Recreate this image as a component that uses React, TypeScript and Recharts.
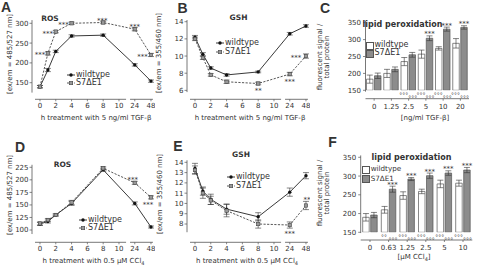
import React from 'react';
import { LineChart, Line, BarChart, Bar, XAxis, YAxis, ErrorBar, ReferenceLine, LabelList } from 'recharts';

const INK = '#333';
const AXIS = '#555';
const FONT = '"DejaVu Sans", Verdana, sans-serif';

// time course (h) – the axis is broken after 10 h
const hours = [0, 1, 2, 4, 8, 24, 48];
const hourTicks = [0, 2, 4, 6, 8, 10, 24, 48];

// A: ROS, 5 ng/ml TGF-beta
const rosTgfWt = [140, 182, 229, 268, 270, 195, 154];
const rosTgfWtErr = [3, 4, 3, 3, 3, 3, 3];
const rosTgfMut = [140, 224, 279, 300, 302, 285, 220];
const rosTgfMutErr = [3, 4, 3, 3, 3, 4, 4];
const rosTgfStars = [
  { h: 1, t: '***', dx: -8, dy: 0 },
  { h: 2, t: '***', dx: -8, dy: 0 },
  { h: 4, t: '***', dx: -8, dy: 0 },
  { h: 8, t: '***', dx: -1, dy: -3 },
  { h: 24, t: '***', dx: 0, dy: -4 },
  { h: 48, t: '***', dx: -8.5, dy: 0 },
];

// B: GSH, 5 ng/ml TGF-beta
const gshTgfWt = [12.2, 10.2, 8.6, 7.8, 8.15, 12.6, 13.5];
const gshTgfWtErr = [0.2, 0.2, 0.15, 0.15, 0.1, 0.15, 0.15];
const gshTgfMut = [12.0, 9.8, 7.8, 7.0, 6.8, 7.9, 10.0];
const gshTgfMutErr = [0.2, 0.2, 0.15, 0.2, 0.15, 0.2, 0.25];
const gshTgfStars = [
  { h: 8, t: '**', dx: 0, dy: 5 },
  { h: 24, t: '***', dx: 0, dy: 6 },
  { h: 48, t: '***', dx: -10, dy: 0 },
];

// D: ROS, 0.5 µM CCl4
const rosCclWt = [112, 117, 130, 153, 220, 153, 106];
const rosCclWtErr = [3, 3, 2, 4, 3, 3, 2];
const rosCclMut = [113, 120, 130, 155, 223, 194, 165];
const rosCclMutErr = [3, 3, 2, 4, 3, 3, 3];
const rosCclStars = [
  { h: 24, t: '***', dx: -2, dy: -5 },
  { h: 48, t: '***', dx: -3, dy: 6 },
];

// E: GSH, 0.5 µM CCl4
const gshCclWt = [13.4, 11.2, 10.4, 9.45, 8.7, 11.1, 12.7];
const gshCclWtErr = [0.5, 0.4, 0.5, 0.5, 0.4, 0.4, 0.3];
const gshCclMut = [13.25, 11.0, 10.3, 9.3, 8.0, 7.9, 9.8];
const gshCclMutErr = [0.4, 0.5, 0.4, 0.6, 0.4, 0.3, 0.4];
const gshCclStars = [
  { h: 24, t: '***', dx: 0, dy: 6.5 },
  { h: 48, t: '**', dx: 1, dy: -7.5 },
];

// C: lipid peroxidation, TGF-beta doses
const tgfDoses = ['0', '1.25', '2.5', '5', '10', '20'];
const lipTgfWt = [183, 200, 235, 257, 274, 289];
const lipTgfWtErr = [12, 12, 12, 12, 5, 14];
const lipTgfMut = [193, 212, 255, 304, 331, 336];
const lipTgfMutErr = [8, 7, 7, 7, 6, 5];
const lipTgfWtLow = ['', '', '°°°', '°°°', '°°°', '°°°'];
const lipTgfMutLow = ['', '', '°°°', '°°°', '°°°', '°°°'];
const lipTgfMutTop = ['', '', '', '***', '***', '***'];

// F: lipid peroxidation, CCl4 doses
const cclDoses = ['0', '0.63', '1.25', '2.5', '5', '10'];
const lipCclWt = [190, 210, 248, 259, 279, 281];
const lipCclWtErr = [10, 9, 10, 6, 10, 8];
const lipCclMut = [196, 265, 292, 301, 308, 316];
const lipCclMutErr = [7, 8, 4, 7, 6, 7];
const lipCclWtLow = ['', '°°', '°°°', '°°°', '°°°', '°°°'];
const lipCclMutLow = ['', '°°°', '°°°', '°°°', '°°°', '°°°'];
const lipCclMutTop = ['', '***', '***', '***', '***', '***'];

const axisPos = (h: number) => (h <= 10 ? h : h === 24 ? 12 : 14.05);
const X_DOMAIN: [number, number] = [-1.01, 14.56];
const X_SEGMENTS = [[-0.63, 10.9], [11.4, 14.3]];
const tickLabel = (p: number) => {
  const h = hourTicks.find((t) => Math.abs(axisPos(t) - p) < 0.01);
  return h === undefined ? '' : String(h);
};

const tickStyle = { fontSize: 7, fill: INK, fontFamily: FONT };
const tickLineStyle = { stroke: AXIS, strokeWidth: 0.7 };

const CircleDot = (p: any) => (
  <circle key={`c${p.index}`} cx={p.cx} cy={p.cy} r={1.7} fill="#111" />
);
const SquareDot = (p: any) => (
  <rect key={`s${p.index}`} x={p.cx - 1.7} y={p.cy - 1.7} width={3.4} height={3.4} fill="#999" stroke="#444" strokeWidth={0.6} />
);

type Star = { h: number; t: string; dx: number; dy: number };

interface LinePanelProps {
  left: number;
  top: number;
  height: number;
  plotBottom: number;
  domain: [number, number];
  ticks: number[];
  axisRange: [number, number];
  wt: number[];
  wtErr: number[];
  mut: number[];
  mutErr: number[];
  stars: Star[];
}

const LinePanel: React.FC<LinePanelProps> = ({ left, top, height, plotBottom, domain, ticks, axisRange, wt, wtErr, mut, mutErr, stars }) => {
  const rows = hours.map((h, i) => {
    const s = stars.find((st) => st.h === h);
    return { pos: axisPos(h), wt: wt[i], wtErr: wtErr[i], mut: mut[i], mutErr: mutErr[i], star: s ? s.t : '', sdx: s ? s.dx : 0, sdy: s ? s.dy : 0 };
  });

  const starLabel = (p: any) => {
    const r = rows[p.index];
    if (!r || !r.star) return null;
    const x = Number(p.x ?? p.viewBox?.x) + r.sdx;
    const y = Number(p.y ?? p.viewBox?.y) + r.sdy;
    return (
      <text x={x} y={y + 4} textAnchor="middle" fontSize={7} fill={INK} fontFamily={FONT}>
        {r.star}
      </text>
    );
  };

  return (
    <div style={{ position: 'absolute', left, top }}>
      <LineChart width={155} height={height} data={rows} margin={{ top: 20, right: 0, left: 0, bottom: height - plotBottom - 12 }}>
        <XAxis
          type="number"
          dataKey="pos"
          domain={X_DOMAIN}
          allowDataOverflow
          ticks={hourTicks.map(axisPos)}
          interval={0}
          tickFormatter={tickLabel}
          axisLine={false}
          tickSize={2}
          tickMargin={2}
          height={12}
          tick={tickStyle}
          tickLine={tickLineStyle}
        />
        <YAxis
          type="number"
          domain={domain}
          allowDataOverflow
          ticks={ticks}
          interval={0}
          width={32}
          axisLine={false}
          tickSize={2.5}
          tickMargin={1}
          tick={tickStyle}
          tickLine={tickLineStyle}
        />
        <ReferenceLine
          ifOverflow="visible"
          segment={[{ x: X_DOMAIN[0], y: axisRange[0] }, { x: X_DOMAIN[0], y: axisRange[1] }]}
          stroke={AXIS}
          strokeWidth={0.8}
        />
        {X_SEGMENTS.map(([a, b]) => (
          <ReferenceLine
            key={a}
            ifOverflow="visible"
            segment={[{ x: a, y: domain[0] }, { x: b, y: domain[0] }]}
            stroke={AXIS}
            strokeWidth={0.8}
          />
        ))}
        <Line dataKey="wt" stroke="#222" strokeWidth={0.9} dot={CircleDot} isAnimationActive={false}>
          <ErrorBar dataKey="wtErr" width={3} stroke={INK} strokeWidth={0.6} />
        </Line>
        <Line dataKey="mut" stroke="#444" strokeWidth={0.9} strokeDasharray="2.2 1.4" dot={SquareDot} isAnimationActive={false}>
          <ErrorBar dataKey="mutErr" width={3} stroke={INK} strokeWidth={0.6} />
          <LabelList dataKey="mut" content={starLabel} />
        </Line>
      </LineChart>
    </div>
  );
};

interface BarPanelProps {
  left: number;
  top: number;
  height: number;
  plotBottom: number;
  yWidth: number;
  rightMargin: number;
  domainTop: number;
  padBottom: number;
  axisRange: [number, number];
  cats: string[];
  wt: number[];
  wtErr: number[];
  mut: number[];
  mutErr: number[];
  wtLow: string[];
  mutLow: string[];
  mutTop: string[];
}

const BarPanel: React.FC<BarPanelProps> = (props) => {
  const { left, top, height, plotBottom, yWidth, rightMargin, domainTop, padBottom, axisRange, cats } = props;
  const rows = cats.map((c, i) => ({
    idx: i,
    wt: props.wt[i],
    wtErr: props.wtErr[i],
    mut: props.mut[i],
    mutErr: props.mutErr[i],
    wtLow: props.wtLow[i],
    mutLow: props.mutLow[i],
    mutTop: props.mutTop[i],
  }));

  const geom = (p: any) => {
    const vb = p.viewBox ?? {};
    return {
      x: Number(p.x ?? vb.x),
      y: Number(p.y ?? vb.y),
      w: Number(p.width ?? vb.width),
      h: Number(p.height ?? vb.height),
    };
  };

  const lowLabel = (key: 'wtLow' | 'mutLow', dx: number, dy: number) => (p: any) => {
    const r = rows[p.index];
    if (!r || !r[key]) return null;
    const g = geom(p);
    return (
      <text x={g.x + g.w / 2 + dx} y={g.y + g.h + dy + 3.7} textAnchor="middle" fontSize={6} fill={INK} fontFamily={FONT}>
        {r[key]}
      </text>
    );
  };

  const topLabel = (p: any) => {
    const r = rows[p.index];
    if (!r || !r.mutTop) return null;
    const g = geom(p);
    const perUnit = g.h / (r.mut - 150);
    const cy = g.y - r.mutErr * perUnit - 3.5;
    return (
      <text x={g.x + g.w / 2} y={cy + 4} textAnchor="middle" fontSize={7} fill={INK} fontFamily={FONT}>
        {r.mutTop}
      </text>
    );
  };

  return (
    <div style={{ position: 'absolute', left, top }}>
      <BarChart width={160} height={height} data={rows} barGap={1.5} margin={{ top: 20, right: rightMargin, left: 0, bottom: height - plotBottom - 12 }}>
        <XAxis
          type="number"
          dataKey="idx"
          domain={[-0.5, 5.5]}
          allowDataOverflow
          ticks={[0, 1, 2, 3, 4, 5]}
          interval={0}
          tickFormatter={(v: number) => cats[v] ?? ''}
          axisLine={{ stroke: AXIS, strokeWidth: 0.8 }}
          tickSize={2}
          tickMargin={3}
          height={12}
          tick={tickStyle}
          tickLine={tickLineStyle}
        />
        <YAxis
          type="number"
          domain={[150, domainTop]}
          allowDataOverflow
          ticks={[150, 200, 250, 300, 350]}
          interval={0}
          width={yWidth}
          padding={{ bottom: padBottom }}
          axisLine={false}
          tickSize={2.5}
          tickMargin={2}
          tick={tickStyle}
          tickLine={tickLineStyle}
        />
        <ReferenceLine
          ifOverflow="visible"
          segment={[{ x: -0.5, y: axisRange[0] }, { x: -0.5, y: axisRange[1] }]}
          stroke={AXIS}
          strokeWidth={0.8}
        />
        <Bar dataKey="wt" fill="#fff" stroke="#555" strokeWidth={0.7} barSize={6.5} isAnimationActive={false}>
          <ErrorBar dataKey="wtErr" width={3} stroke={INK} strokeWidth={0.6} />
          <LabelList dataKey="wtLow" content={lowLabel('wtLow', -0.5, 2.8)} />
        </Bar>
        <Bar dataKey="mut" fill="#8c8c8c" stroke="#555" strokeWidth={0.7} barSize={6.5} isAnimationActive={false}>
          <ErrorBar dataKey="mutErr" width={3} stroke={INK} strokeWidth={0.6} />
          <LabelList dataKey="mutLow" content={lowLabel('mutLow', 0.5, 5.5)} />
          <LabelList dataKey="mutTop" content={topLabel} />
        </Bar>
      </BarChart>
    </div>
  );
};

const Txt: React.FC<{ x: number; y: number; size?: number; bold?: boolean; rotate?: boolean; family?: string; align?: 'left' | 'center'; children: React.ReactNode }> = ({
  x,
  y,
  size = 7,
  bold,
  rotate,
  family = FONT,
  align = 'center',
  children,
}) => (
  <div
    style={{
      position: 'absolute',
      left: x,
      top: y,
      fontSize: size,
      fontWeight: bold ? 'bold' : 'normal',
      fontFamily: family,
      color: INK,
      lineHeight: 1,
      whiteSpace: 'nowrap',
      textAlign: 'center',
      transform: `translate(${align === 'center' ? '-50%' : '0'}, -50%)${rotate ? ' rotate(-90deg)' : ''}`,
    }}
  >
    {children}
  </div>
);

const LetterFont = '"Liberation Sans", Arial, sans-serif';

const LineLegend: React.FC<{ x: number; y1: number; y2: number }> = ({ x, y1, y2 }) => (
  <>
    <svg style={{ position: 'absolute', left: x - 4, top: y1 - 3 }} width={8} height={6}>
      <line x1={0} y1={3} x2={8} y2={3} stroke="#222" strokeWidth={0.9} />
      <circle cx={4} cy={3} r={1.7} fill="#111" />
    </svg>
    <Txt x={x + 5} y={y1} size={8} align="left">wildtype</Txt>
    <svg style={{ position: 'absolute', left: x - 4, top: y2 - 3 }} width={8} height={6}>
      <line x1={0} y1={3} x2={8} y2={3} stroke="#444" strokeWidth={0.9} strokeDasharray="2.2 1.4" />
      <rect x={2.3} y={1.3} width={3.4} height={3.4} fill="#999" stroke="#444" strokeWidth={0.6} />
    </svg>
    <Txt x={x + 5} y={y2} size={8} align="left">S7ΔE1</Txt>
  </>
);

const BarLegend: React.FC<{ x: number; y1: number; y2: number; size?: number }> = ({ x, y1, y2, size = 8 }) => (
  <>
    <div style={{ position: 'absolute', left: x, top: y1 - 3.5, width: 6, height: 6, background: '#fff', border: '0.8px solid #555' }} />
    <Txt x={x + 9} y={y1} size={size} align="left">wildtype</Txt>
    <div style={{ position: 'absolute', left: x, top: y2 - 3.5, width: 6, height: 6, background: '#8c8c8c', border: '0.8px solid #555' }} />
    <Txt x={x + 9} y={y2} size={size} align="left">S7ΔE1</Txt>
  </>
);

export default function App() {
  return (
    <div style={{ position: 'relative', width: 480, height: 269, overflow: 'hidden', background: '#fff', fontFamily: FONT }}>
      <style>{'body{margin:0}'}</style>

      <LinePanel left={0} top={0} height={134} plotBottom={99.3} domain={[108.1, 308.3]} ticks={[150, 200, 250, 300]} axisRange={[125, 308]}
        wt={rosTgfWt} wtErr={rosTgfWtErr} mut={rosTgfMut} mutErr={rosTgfMutErr} stars={rosTgfStars} />
      <LinePanel left={155} top={0} height={134} plotBottom={99.3} domain={[4.96, 14.2]} ticks={[6, 8, 10, 12, 14]} axisRange={[5.8, 14.2]}
        wt={gshTgfWt} wtErr={gshTgfWtErr} mut={gshTgfMut} mutErr={gshTgfMutErr} stars={gshTgfStars} />
      <LinePanel left={0} top={134} height={135} plotBottom={108.3} domain={[75.5, 251.5]} ticks={[100, 125, 150, 175, 200, 225]} axisRange={[92, 230]}
        wt={rosCclWt} wtErr={rosCclWtErr} mut={rosCclMut} mutErr={rosCclMutErr} stars={rosCclStars} />
      <LinePanel left={155} top={134} height={135} plotBottom={108.3} domain={[6.22, 14.81]} ticks={[8, 9, 10, 11, 12, 13, 14]} axisRange={[7.2, 14.2]}
        wt={gshCclWt} wtErr={gshCclWtErr} mut={gshCclMut} mutErr={gshCclMutErr} stars={gshCclStars} />

      <BarPanel left={315} top={0} height={134} plotBottom={98.7} yWidth={50.5} rightMargin={6} domainTop={358} padBottom={8.4} axisRange={[146, 356]}
        cats={tgfDoses} wt={lipTgfWt} wtErr={lipTgfWtErr} mut={lipTgfMut} mutErr={lipTgfMutErr}
        wtLow={lipTgfWtLow} mutLow={lipTgfMutLow} mutTop={lipTgfMutTop} />
      <BarPanel left={315} top={134} height={135} plotBottom={106} yWidth={45.7} rightMargin={2.7} domainTop={358.8} padBottom={7.7} axisRange={[148, 355]}
        cats={cclDoses} wt={lipCclWt} wtErr={lipCclWtErr} mut={lipCclMut} mutErr={lipCclMutErr}
        wtLow={lipCclWtLow} mutLow={lipCclMutLow} mutTop={lipCclMutTop} />

      {/* panel letters */}
      <Txt x={6} y={7} size={14} bold family={LetterFont}>A</Txt>
      <Txt x={182.5} y={8} size={14} bold family={LetterFont}>B</Txt>
      <Txt x={325} y={8} size={14} bold family={LetterFont}>C</Txt>
      <Txt x={20} y={147} size={14} bold family={LetterFont}>D</Txt>
      <Txt x={178} y={146} size={14} bold family={LetterFont}>E</Txt>
      <Txt x={332.5} y={142} size={14} bold family={LetterFont}>F</Txt>

      {/* titles */}
      <Txt x={50} y={19} size={7.5} bold>ROS</Txt>
      <Txt x={238.5} y={17.5} size={7.5} bold>GSH</Txt>
      <Txt x={402.5} y={25} size={8} bold>lipid peroxidation</Txt>
      <Txt x={62.5} y={165} size={7.5} bold>ROS</Txt>
      <Txt x={241} y={155} size={7.5} bold>GSH</Txt>
      <Txt x={411.5} y={158} size={8} bold>lipid peroxidation</Txt>

      {/* axis titles */}
      <Txt x={9.5} y={54} rotate>[ex/em = 485/527 nm]</Txt>
      <Txt x={159} y={53} rotate>[ex/em = 355/460 nm]</Txt>
      <Txt x={9.5} y={195} rotate>[ex/em = 485/527 nm]</Txt>
      <Txt x={160} y={194} rotate>[ex/em = 355/460 nm]</Txt>
      <Txt x={324} y={57} rotate>fluorescent signal /<br />total protein</Txt>
      <Txt x={323.5} y={192.5} rotate>fluorescent signal /<br />total protein</Txt>

      <Txt x={96} y={118}>h treatment with 5 ng/ml TGF-β</Txt>
      <Txt x={250} y={118.3}>h treatment with 5 ng/ml TGF-β</Txt>
      <Txt x={425} y={118}>[ng/ml TGF-β]</Txt>
      <Txt x={93.5} y={261.7}>h treatment with 0.5 µM CCl<sub style={{ fontSize: 5 }}>4</sub></Txt>
      <Txt x={247} y={261.7}>h treatment with 0.5 µM CCl<sub style={{ fontSize: 5 }}>4</sub></Txt>
      <Txt x={414} y={258}>[µM CCl<sub style={{ fontSize: 5 }}>4</sub>]</Txt>

      {/* legends */}
      <LineLegend x={71} y1={75} y2={82.7} />
      <LineLegend x={220} y1={42.7} y2={51.7} />
      <LineLegend x={83} y1={219.7} y2={228} />
      <LineLegend x={231} y1={176.7} y2={185.7} />
      <BarLegend x={365.5} y1={45.3} y2={53.3} />
      <BarLegend x={361.7} y1={169} y2={178.5} size={7.2} />
    </div>
  );
}
